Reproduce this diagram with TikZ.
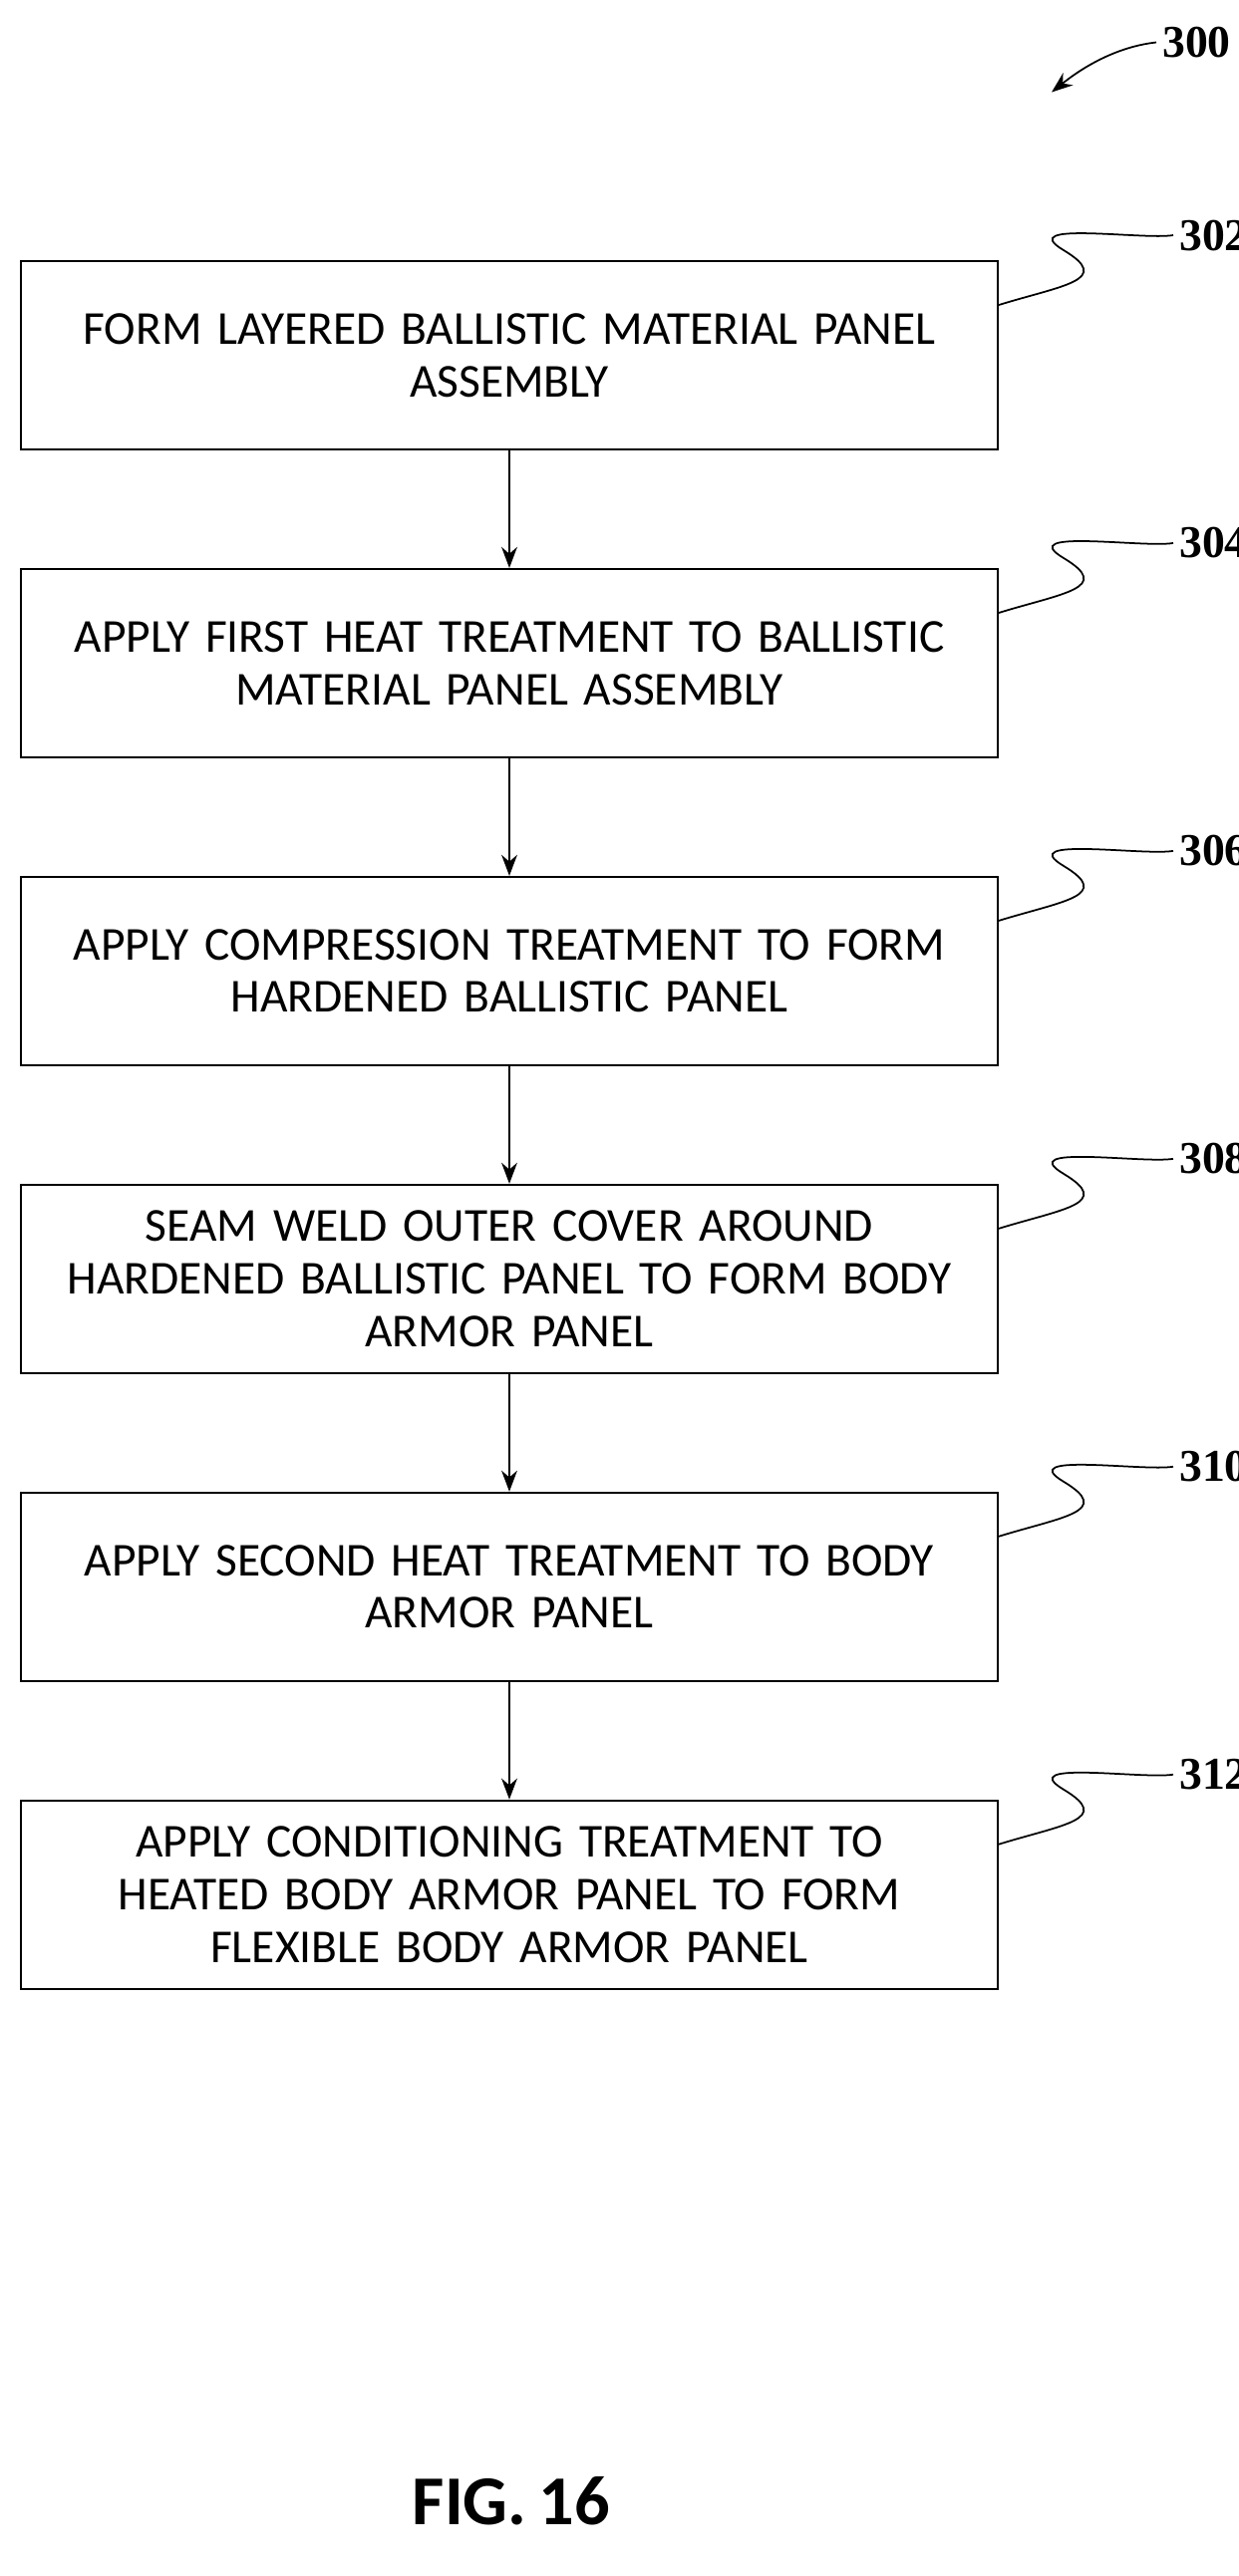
\documentclass[tikz,border=0pt]{standalone}
\usepackage{fontspec}
\setmainfont{Carlito}[WordSpace=0.8]
\newfontfamily\refnum{Liberation Serif}
\usetikzlibrary{positioning,arrows.meta,calc}
\tikzset{
  stepbox/.style={draw, line width=1.1pt, minimum width=19.6cm, minimum height=3.78cm,
    inner sep=0pt, text width=19cm, align=center, font=\fontsize{27}{30}\selectfont},
  flow/.style={line width=1.1pt, -{Stealth[length=12pt,width=9pt]}},
  refno/.style={anchor=west, font=\refnum\bfseries\fontsize{26}{26}\selectfont},
  squig/.style={line width=1pt}
}
\begin{document}
\begin{tikzpicture}
  \useasboundingbox (0,0) rectangle (24.86,-51.7);
  % steps
  \node[stepbox] (s302) at (10.22,-7.13) {FORM LAYERED BALLISTIC MATERIAL PANEL\\ASSEMBLY};
  \node[stepbox, below=2.36cm of s302] (s304) {APPLY FIRST HEAT TREATMENT TO BALLISTIC\\MATERIAL PANEL ASSEMBLY};
  \node[stepbox, below=2.36cm of s304] (s306) {APPLY COMPRESSION TREATMENT TO FORM\\HARDENED BALLISTIC PANEL};
  \node[stepbox, below=2.36cm of s306] (s308) {SEAM WELD OUTER COVER AROUND\\HARDENED BALLISTIC PANEL TO FORM BODY\\ARMOR PANEL};
  \node[stepbox, below=2.36cm of s308] (s310) {APPLY SECOND HEAT TREATMENT TO BODY\\ARMOR PANEL};
  \node[stepbox, below=2.36cm of s310] (s312) {APPLY CONDITIONING TREATMENT TO\\HEATED BODY ARMOR PANEL TO FORM\\FLEXIBLE BODY ARMOR PANEL};
  \foreach \a/\b in {s302/s304,s304/s306,s306/s308,s308/s310,s310/s312}
    \draw[flow] (\a) -- (\b);
  % reference numerals
  \foreach \n in {302,304,306,308,310,312} {
    \coordinate (e\n) at ($(s\n.north east)+(0,-0.9)$);
    \node[refno] (l\n) at ($(s\n.north east)+(3.5,0.5)$) {\n};
    \draw[squig] (e\n) .. controls +(1.3,0.4) and +(1.0,-0.6) .. ($(e\n)+(1.3,1.1)$)
      .. controls +(-1.0,0.6) and +(-0.6,-0.1) .. (l\n.west);
  }
  \node[refno] (l300) at (23.2,-0.85) {300};
  \coordinate (t300) at (21.1,-1.85);
  \draw[line width=1pt, -{Stealth[length=12pt,width=9pt]}] (l300.west) .. controls +(-0.9,-0.1) and +(0.5,0.4) .. (t300);
  \node[font=\bfseries\fontsize{40}{40}\selectfont] (fig) at (10.26,-50.2) {FIG. 16};
\end{tikzpicture}
\end{document}
